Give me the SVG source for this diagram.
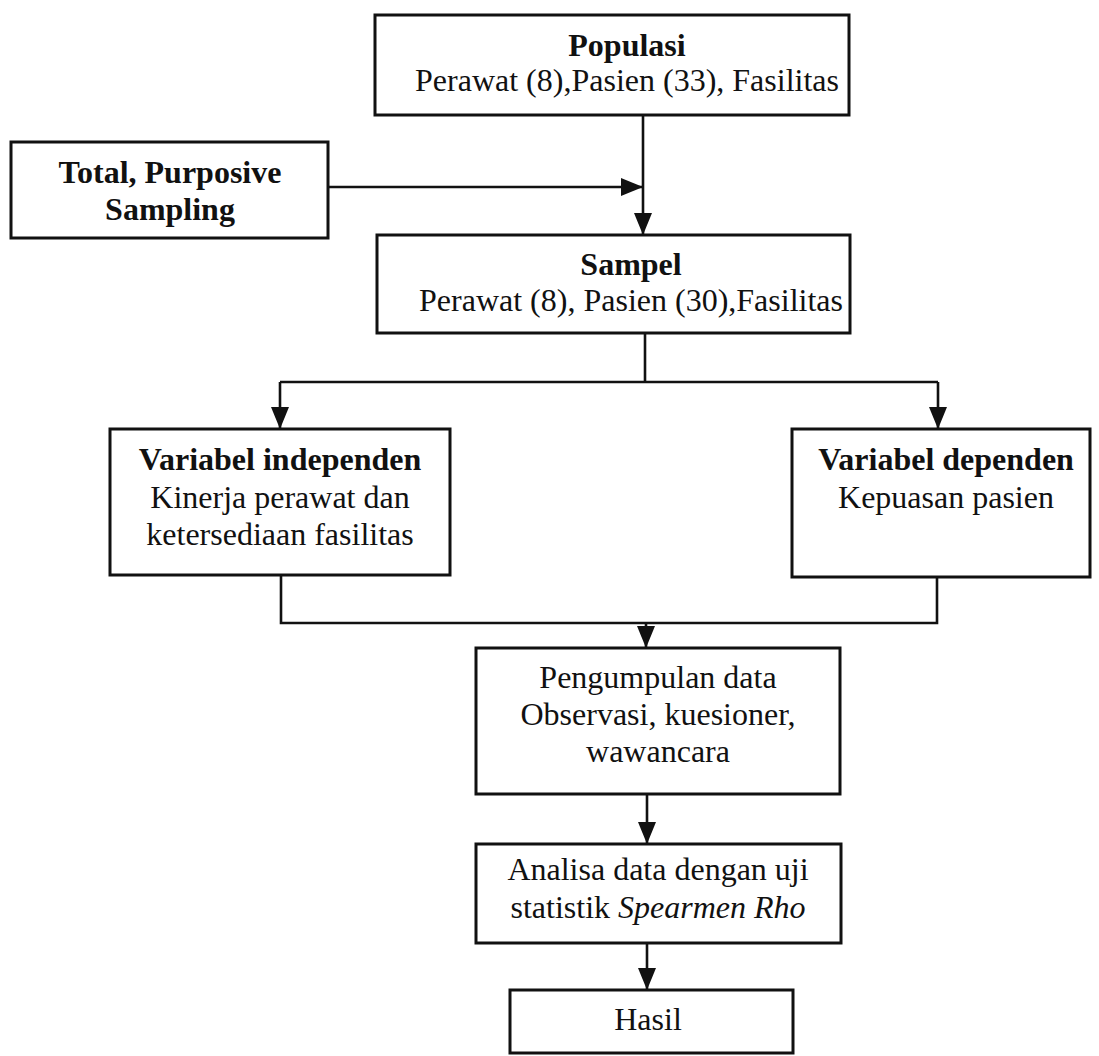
<svg xmlns="http://www.w3.org/2000/svg" width="1099" height="1056" viewBox="0 0 1099 1056">
<style>
.box{fill:#fff;stroke:#111;stroke-width:3}
.ln{fill:none;stroke:#111;stroke-width:2.6}
.t{font-family:"Liberation Serif","Times New Roman",serif;font-size:32px;fill:#111;text-anchor:middle}
.b{font-weight:bold}
</style>
<defs>
<marker id="ah" markerUnits="userSpaceOnUse" markerWidth="22" markerHeight="18" refX="22" refY="9" orient="auto">
<path d="M0,0 L22,9 L0,18 Z" fill="#111"/>
</marker>
</defs>
<rect width="1099" height="1056" fill="#fff"/>
<g id="connectors">
<path class="ln" d="M643,115 V235" marker-end="url(#ah)"/>
<path class="ln" d="M328,187 H643" marker-end="url(#ah)"/>
<path class="ln" d="M645,333 V382"/>
<path class="ln" d="M280,382 H938"/>
<path class="ln" d="M280,382 V429" marker-end="url(#ah)"/>
<path class="ln" d="M938,382 V429" marker-end="url(#ah)"/>
<path class="ln" d="M281,575 V623 H937 V577"/>
<path class="ln" d="M646,623 V648" marker-end="url(#ah)"/>
<path class="ln" d="M647,794 V844" marker-end="url(#ah)"/>
<path class="ln" d="M647,943 V990" marker-end="url(#ah)"/>
</g>
<g id="populasi">
<rect class="box" x="375" y="15" width="474" height="100"/>
<text class="t b" x="627" y="56">Populasi</text>
<text class="t" x="627" y="91">Perawat (8),Pasien (33), Fasilitas</text>
</g>
<g id="sampling">
<rect class="box" x="11" y="142" width="317" height="96"/>
<text class="t b" x="170" y="183">Total, Purposive</text>
<text class="t b" x="170" y="220">Sampling</text>
</g>
<g id="sampel">
<rect class="box" x="377" y="235" width="473" height="98"/>
<text class="t b" x="631" y="275">Sampel</text>
<text class="t" x="631" y="311">Perawat (8), Pasien (30),Fasilitas</text>
</g>
<g id="independen">
<rect class="box" x="110" y="429" width="340" height="146"/>
<text class="t b" x="280" y="470">Variabel independen</text>
<text class="t" x="280" y="508">Kinerja perawat dan</text>
<text class="t" x="280" y="545">ketersediaan fasilitas</text>
</g>
<g id="dependen">
<rect class="box" x="792" y="429" width="298" height="148"/>
<text class="t b" x="946" y="470">Variabel dependen</text>
<text class="t" x="946" y="508">Kepuasan pasien</text>
</g>
<g id="pengumpulan">
<rect class="box" x="476" y="648" width="364" height="146"/>
<text class="t" x="658" y="688">Pengumpulan data</text>
<text class="t" x="658" y="725">Observasi, kuesioner,</text>
<text class="t" x="658" y="762">wawancara</text>
</g>
<g id="analisa">
<rect class="box" x="476" y="844" width="365" height="99"/>
<text class="t" x="658" y="880">Analisa data dengan uji</text>
<text class="t" x="658" y="918">statistik <tspan font-style="italic">Spearmen Rho</tspan></text>
</g>
<g id="hasil">
<rect class="box" x="510" y="990" width="283" height="63"/>
<text class="t" x="648" y="1030">Hasil</text>
</g>
</svg>
